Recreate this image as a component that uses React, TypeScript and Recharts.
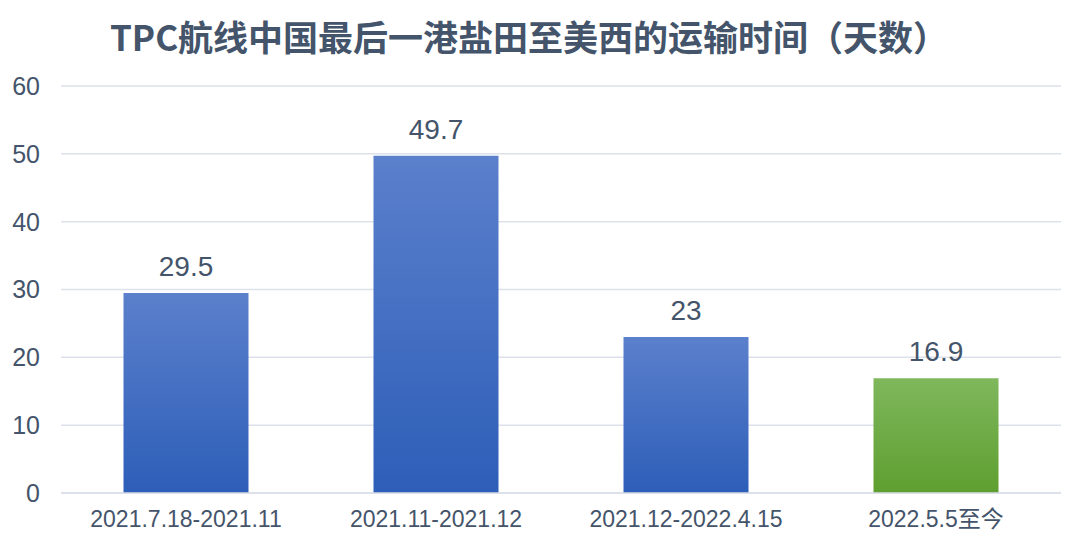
import React from 'react';
import { BarChart, Bar, XAxis, YAxis, CartesianGrid, LabelList, Cell } from 'recharts';

const periods = ['2021.7.18-2021.11', '2021.11-2021.12', '2021.12-2022.4.15', '2022.5.5至今'];
const days = [29.5, 49.7, 23, 16.9];
const barFills = ['url(#blueGrad)', 'url(#blueGrad)', 'url(#blueGrad)', 'url(#greenGrad)'];
const yTicks = [0, 10, 20, 30, 40, 50, 60];

const chartData = periods.map((period, i) => ({ period, days: days[i] }));

const textColor = '#44546A';

const App = () => {
    return (
        <div style={{ position: 'absolute', left: 0, top: 0, width: 1080, height: 550, background: '#fff' }}>
            <div
                style={{
                    position: 'absolute',
                    left: 0,
                    top: 13,
                    width: 1058,
                    textAlign: 'center',
                    fontFamily: '"Noto Sans CJK SC", sans-serif',
                    fontWeight: 700,
                    fontSize: 35,
                    lineHeight: '46px',
                    color: textColor,
                }}
            >
                TPC航线中国最后一港盐田至美西的运输时间（天数）
            </div>
            <BarChart
                width={1080}
                height={550}
                data={chartData}
                margin={{ top: 86, right: 19, bottom: 17, left: 0 }}
                barCategoryGap="25%"
                style={{ position: 'absolute', left: 0, top: 0 }}
            >
                <defs>
                    <linearGradient id="blueGrad" x1="0" y1="0" x2="0" y2="1">
                        <stop offset="0%" stopColor="#5B80CC" />
                        <stop offset="100%" stopColor="#2D5EB8" />
                    </linearGradient>
                    <linearGradient id="greenGrad" x1="0" y1="0" x2="0" y2="1">
                        <stop offset="0%" stopColor="#7FB75C" />
                        <stop offset="100%" stopColor="#5E9F30" />
                    </linearGradient>
                </defs>
                <CartesianGrid vertical={false} stroke="#DCE1EA" strokeWidth={1.5} />
                <XAxis
                    dataKey="period"
                    height={40}
                    tickLine={false}
                    tickSize={0}
                    tickMargin={18}
                    axisLine={{ stroke: '#D9DEE6', strokeWidth: 1.5 }}
                    tick={{ fill: textColor, fontSize: 23, fontFamily: '"Liberation Sans", "Noto Sans CJK SC", sans-serif' }}
                />
                <YAxis
                    width={61}
                    domain={[0, 60]}
                    ticks={yTicks}
                    tickLine={false}
                    axisLine={false}
                    tickSize={0}
                    tickMargin={21}
                    tick={{ fill: textColor, fontSize: 25, fontFamily: '"Liberation Sans", sans-serif' }}
                />
                <Bar dataKey="days" isAnimationActive={false}>
                    {barFills.map((fill, i) => (
                        <Cell key={i} fill={fill} />
                    ))}
                    <LabelList
                        dataKey="days"
                        position="top"
                        offset={17}
                        fill={textColor}
                        fontSize={28}
                        fontFamily='"Liberation Sans", sans-serif'
                    />
                </Bar>
            </BarChart>
        </div>
    );
};

export default App;
